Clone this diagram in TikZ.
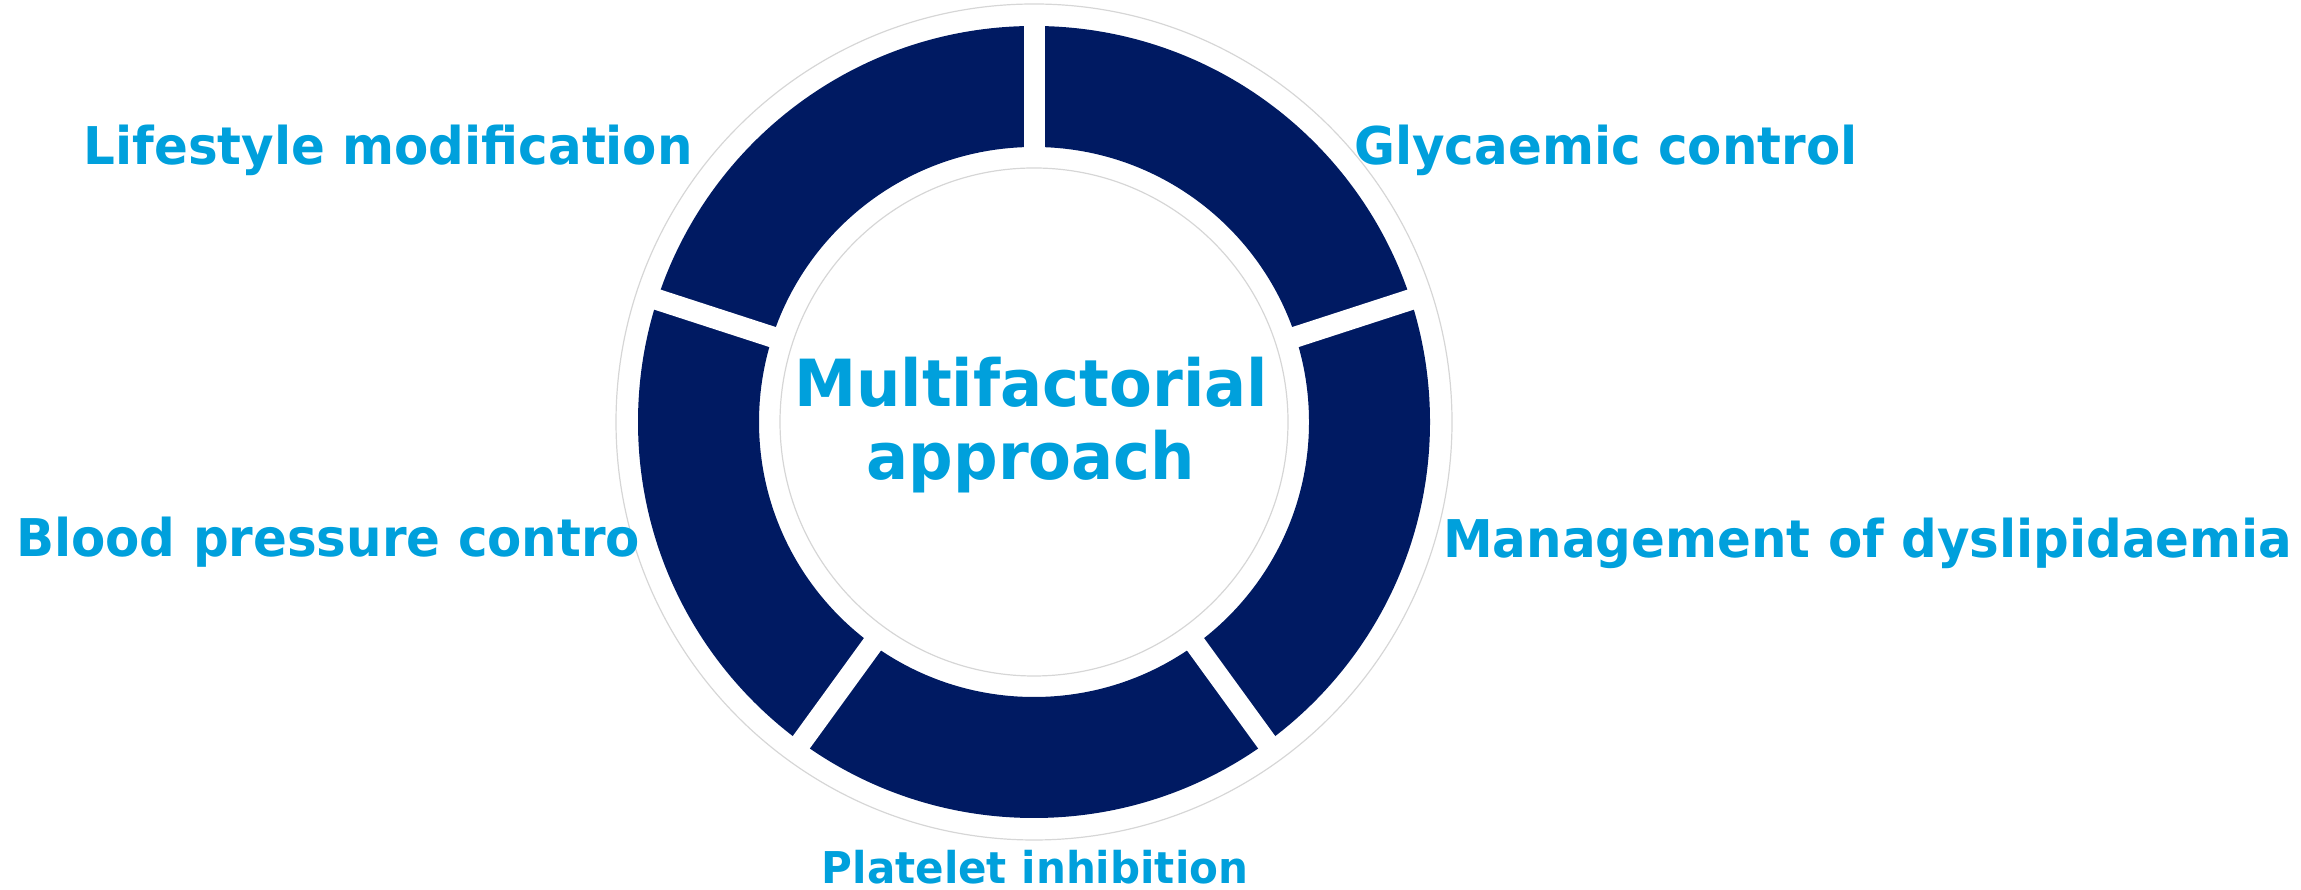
\documentclass[tikz,border=0pt]{standalone}
\usepackage{fontspec}
\usetikzlibrary{calc}
\newfontfamily\labelfont{DejaVu Sans Bold}[FakeStretch=0.96]
\definecolor{ringnavy}{HTML}{001A62}
\definecolor{labelblue}{HTML}{00A0DC}
\definecolor{guidegray}{HTML}{D6D6D6}
\begin{document}
\begin{tikzpicture}[x=1pt,y=1pt,
  lbl/.style={text=labelblue, font=\labelfont\fontsize{52}{60}\selectfont, inner sep=0pt},
  small/.style={text=labelblue, font=\labelfont\fontsize{43.8}{50}\selectfont, inner sep=0pt},
  ctr/.style={text=labelblue, font=\labelfont\fontsize{65}{73}\selectfont, inner sep=0pt},
  guide/.style={draw=guidegray, line width=1.2pt},
  cut/.style={draw=white, line width=21pt}]
\useasboundingbox (0,0) rectangle (2301,890);
\coordinate (C) at (1034,468);

% thin guide circles around and inside the ring
\draw[guide] (C) circle[radius=418];
\draw[guide] (C) circle[radius=254];

% the five measures
\node[lbl, anchor=base east] (life)  at (693,725)  {Lifestyle modification};
\node[lbl, anchor=base west] (glyc)  at (1354,725) {Glycaemic control};
\begin{scope}
  % this label's text box is cut short on its right side
  \clip (0,0) rectangle (637,890);
  \node[lbl, anchor=base west] (bp) at (16,333) {Blood pressure control};
\end{scope}
\node[lbl, anchor=base west] (lipid) at (1443,332) {Management of dyslipidaemia};
\node[small, anchor=base]    (plt)   at (1035,6)   {Platelet inhibition};

% the ring, split into five segments
\fill[ringnavy, even odd rule] (C) circle[radius=396] (C) circle[radius=275];
\foreach \a in {90,18,-54,-126,162}
  \draw[cut] ($(C)+(\a:270)$) -- ($(C)+(\a:401)$);

% central caption
\node[ctr, anchor=base] (mf1) at (1031,483) {Multifactorial};
\node[ctr, anchor=base] (mf2) at (1031,410) {approach};
\end{tikzpicture}
\end{document}
